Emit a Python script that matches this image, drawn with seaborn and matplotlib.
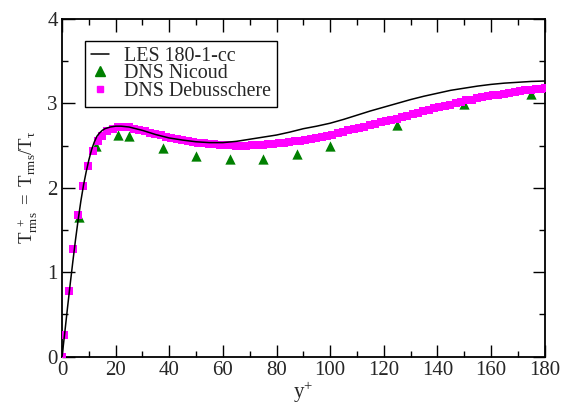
import matplotlib
matplotlib.use("Agg")
import matplotlib.pyplot as plt
from matplotlib.ticker import MultipleLocator
from matplotlib.lines import Line2D
import seaborn as sns
import pandas as pd

# LES 180-1-cc (line)
les_y = [0, 1, 2, 3, 4, 5, 6, 7, 8, 9, 10, 11, 12, 13, 14, 15, 16, 18, 20, 22, 25, 30, 35, 40, 45,
         50, 55, 60, 65, 70, 75, 80, 85, 90, 95, 100, 105, 110, 115, 120, 125, 130, 135, 140, 145,
         150, 155, 160, 165, 170, 175, 180]
les_t = [0, 0.28, 0.57, 0.85, 1.12, 1.38, 1.62, 1.84, 2.03, 2.19, 2.33, 2.45, 2.54, 2.61, 2.65, 2.68,
         2.70, 2.72, 2.73, 2.73, 2.72, 2.68, 2.63, 2.59, 2.565, 2.545, 2.535, 2.535, 2.55, 2.575, 2.60,
         2.625, 2.66, 2.70, 2.73, 2.765, 2.81, 2.86, 2.91, 2.955, 3.00, 3.045, 3.085, 3.12, 3.155,
         3.18, 3.205, 3.225, 3.24, 3.25, 3.26, 3.265]

# DNS Nicoud (triangles)
nic_y = [0, 6.25, 12.5, 20.8, 25, 37.5, 50, 62.5, 75, 87.5, 100, 125, 150, 175]
nic_t = [0, 1.65, 2.50, 2.62, 2.61, 2.47, 2.38, 2.34, 2.34, 2.40, 2.49, 2.74, 2.99, 3.11]

# DNS Debusschere (squares)
deb_y = [0, 0.7, 2.5, 4.2, 6.0, 7.9, 9.8, 11.4, 13.3, 14.8, 16.9, 18.9, 20.8, 22.8, 24.8, 26.8, 28.8,
         30.8, 32.8, 34.8, 36.8, 38.8, 40.8, 42.8, 44.8, 46.8, 48.8, 50.8, 52.8, 54.8, 56.8, 58.8,
         60.8, 62.8, 64.8, 66.8, 68.8, 70.8, 72.8, 74.8, 76.8, 78.8, 80.8, 82.8, 84.8, 86.8, 88.8,
         90.8, 92.8, 94.8, 96.8, 98.8, 100.8, 102.8, 104.8, 106.8, 108.8, 110.8, 112.8, 114.8, 116.8,
         118.8, 120.8, 122.8, 124.8, 126.8, 128.8, 130.8, 132.8, 134.8, 136.8, 138.8, 140.8, 142.8,
         144.8, 146.8, 148.8, 150.8, 152.8, 154.8, 156.8, 158.8, 160.8, 162.8, 164.8, 166.8, 168.8,
         170.8, 172.8, 174.8, 176.8, 178.8, 180.0]
deb_t = [0, 0.25, 0.78, 1.27, 1.68, 2.02, 2.26, 2.43, 2.55, 2.61, 2.67, 2.70, 2.72, 2.725, 2.715,
         2.70, 2.685, 2.67, 2.65, 2.635, 2.62, 2.605, 2.59, 2.58, 2.565, 2.555, 2.545, 2.535, 2.53,
         2.52, 2.515, 2.51, 2.505, 2.505, 2.50, 2.50, 2.50, 2.505, 2.505, 2.51, 2.515, 2.52, 2.53,
         2.535, 2.54, 2.55, 2.56, 2.57, 2.58, 2.59, 2.60, 2.61, 2.63, 2.645, 2.66, 2.68, 2.695, 2.71,
         2.725, 2.745, 2.76, 2.775, 2.79, 2.805, 2.82, 2.84, 2.855, 2.87, 2.89, 2.905, 2.92, 2.94,
         2.955, 2.97, 2.985, 3.00, 3.02, 3.035, 3.045, 3.06, 3.07, 3.085, 3.095, 3.105, 3.115, 3.125,
         3.135, 3.145, 3.155, 3.16, 3.17, 3.175, 3.18]

x_ticks = [0, 20, 40, 60, 80, 100, 120, 140, 160, 180]
y_ticks = [0, 1, 2, 3, 4]

sns.set_style("ticks")
plt.rcParams['font.family'] = ['Liberation Serif', 'DejaVu Serif']
plt.rcParams['mathtext.fontset'] = 'custom'
plt.rcParams['mathtext.rm'] = 'Liberation Serif'
plt.rcParams['mathtext.it'] = 'Liberation Serif'

fig = plt.figure(figsize=(5.71, 4.08), dpi=100)
ax = fig.add_axes([0.1087, 0.1262, 0.845, 0.8272])

les_df = pd.DataFrame({"y": les_y, "t": les_t})
nic_df = pd.DataFrame({"y": nic_y, "t": nic_t})
deb_df = pd.DataFrame({"y": deb_y, "t": deb_t})

sns.scatterplot(data=nic_df, x="y", y="t", ax=ax, marker="^", color="#008000",
                s=55, linewidth=0, zorder=2)
sns.scatterplot(data=deb_df, x="y", y="t", ax=ax, marker="s", color="#ff00ff",
                s=26, linewidth=0, zorder=3)
sns.lineplot(data=les_df, x="y", y="t", ax=ax, color="black", linewidth=1.1,
             sort=False, estimator=None, zorder=4)

ax.set_xlim(0, 180)
ax.set_ylim(0, 4)
ax.set_xticks(x_ticks)
ax.set_yticks(y_ticks)
ax.xaxis.set_minor_locator(MultipleLocator(10))
ax.yaxis.set_minor_locator(MultipleLocator(0.5))
ax.tick_params(which='both', direction='in', top=True, right=True, labelsize=15,
               width=1.0, color='black', pad=3)
ax.tick_params(which='major', length=9)
ax.tick_params(which='minor', length=4.5)
for sp in ax.spines.values():
    sp.set_linewidth(1.3)
    sp.set_color('black')

ax.set_xlabel(r'$\mathregular{y^{+}}$', fontsize=15, labelpad=0)
ax.set_ylabel(r'$\mathregular{T_{rms}^{\ +}\ =\ T_{rms}/T_{\tau}}$', fontsize=13.5, labelpad=5)

handles = [
    Line2D([], [], color='black', linewidth=1.1),
    Line2D([], [], color='#008000', marker='^', linestyle='none', markersize=7.5),
    Line2D([], [], color='#ff00ff', marker='s', linestyle='none', markersize=5),
]
labels = ["LES 180-1-cc", "DNS Nicoud", "DNS Debusschere"]
leg = ax.legend(handles, labels, loc='upper left', bbox_to_anchor=(0.047, 0.935),
                borderaxespad=0, fontsize=14.4, frameon=True, fancybox=False,
                edgecolor='black', framealpha=1, handlelength=0.9, handletextpad=0.75,
                labelspacing=-0.08, borderpad=0.3)
leg.get_frame().set_linewidth(1.0)

fig.savefig("out.png", dpi=100)
